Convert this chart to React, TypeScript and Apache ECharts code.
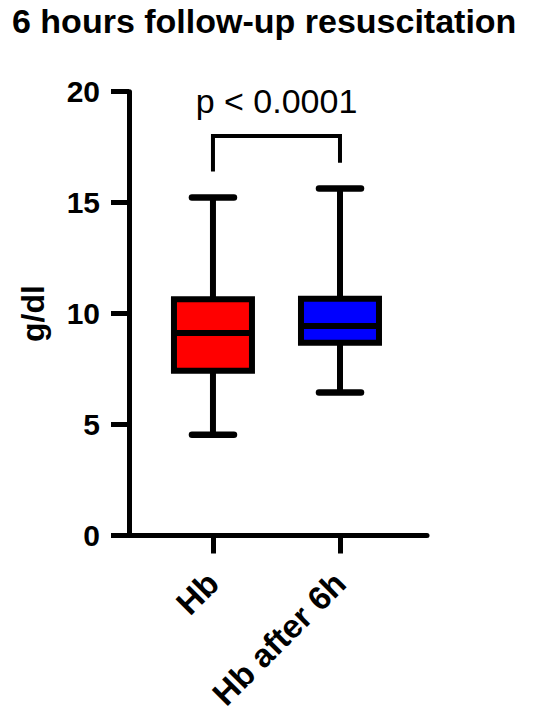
import React, { useEffect, useRef } from "react";
import * as echarts from "echarts";

// ---- data ----
const categories = ["Hb", "Hb after 6h"];
const whiskerMin = [4.54, 6.44];
const q1 = [7.42, 8.69];
const median = [9.13, 9.44];
const q3 = [10.65, 10.67];
const whiskerMax = [15.23, 15.64];
const boxColors = ["#FF0000", "#0000FF"];

const yMin = 0;
const yMax = 20;
const yInterval = 5;

// significance bracket: [fromIndex, toIndex, barY, leftLegEnd, rightLegEnd, labelY]
const bracket = [0, 1, 18.0, 16.4, 16.8, 19.6];
const bracketLabel = "p < 0.0001";

const titleText = "6 hours follow-up resuscitation";
const yAxisName = "g/dl";

const FONT = "'Liberation Sans', Arial, sans-serif";

export default function App() {
  const ref = useRef<HTMLDivElement>(null);

  useEffect(() => {
    if (!ref.current) return;
    const chart = echarts.init(ref.current, undefined, { renderer: "svg" });

    const boxData = categories.map((_, i) => [
      i,
      whiskerMin[i],
      q1[i],
      median[i],
      q3[i],
      whiskerMax[i],
    ]);

    const option: any = {
      animation: false,
      backgroundColor: "#ffffff",
      title: {
        text: titleText,
        left: 12,
        top: 4,
        padding: 0,
        textStyle: {
          fontFamily: FONT,
          fontSize: 34,
          fontWeight: "bold",
          color: "#000",
        },
      },
      grid: {
        left: 129,
        right: 123,
        top: 91.7,
        bottom: 180.5,
        containLabel: false,
      },
      xAxis: {
        type: "value",
        min: -0.661,
        max: 1.685,
        splitLine: { show: false },
        axisLine: { show: true, onZero: false, lineStyle: { color: "#000", width: 5 } },
        axisTick: {
          show: true,
          customValues: [0, 1],
          length: 18,
          lineStyle: { color: "#000", width: 5 },
        },
        axisLabel: {
          show: true,
          customValues: [0, 1],
          rotate: 45,
          margin: 42,
          formatter: (v: number) => categories[Math.round(v)] ?? "",
          fontFamily: FONT,
          fontSize: 33,
          fontWeight: "bold",
          color: "#000",
        },
      },
      yAxis: {
        type: "value",
        min: yMin,
        max: yMax,
        interval: yInterval,
        name: yAxisName,
        nameLocation: "middle",
        nameRotate: 90,
        nameGap: 80,
        nameTextStyle: {
          fontFamily: FONT,
          fontSize: 32,
          fontWeight: "bold",
          color: "#000",
        },
        splitLine: { show: false },
        axisLine: { show: true, onZero: false, lineStyle: { color: "#000", width: 5 } },
        axisTick: {
          show: true,
          length: 18,
          lineStyle: { color: "#000", width: 5 },
        },
        axisLabel: {
          margin: 29,
          fontFamily: FONT,
          fontSize: 30,
          fontWeight: "bold",
          color: "#000",
        },
      },
      series: [
        {
          type: "custom",
          data: boxData,
          encode: { x: 0, y: [1, 2, 3, 4, 5] },
          clip: false,
          renderItem: (params: any, api: any) => {
            const x = api.value(0);
            const pMin = api.coord([x, api.value(1)]);
            const pQ1 = api.coord([x, api.value(2)]);
            const pMed = api.coord([x, api.value(3)]);
            const pQ3 = api.coord([x, api.value(4)]);
            const pMax = api.coord([x, api.value(5)]);
            const cx = pMin[0];
            const halfBox = 39;
            const halfCap = 21;
            const lw = 6;
            const stroke = { stroke: "#000", lineWidth: lw };
            return {
              type: "group",
              children: [
                { type: "line", shape: { x1: cx, y1: pMax[1], x2: cx, y2: pQ3[1] }, style: stroke },
                { type: "line", shape: { x1: cx, y1: pQ1[1], x2: cx, y2: pMin[1] }, style: stroke },
                { type: "line", shape: { x1: cx - halfCap, y1: pMax[1], x2: cx + halfCap, y2: pMax[1] }, style: { ...stroke, lineWidth: 6.5, lineCap: "round" } },
                { type: "line", shape: { x1: cx - halfCap, y1: pMin[1], x2: cx + halfCap, y2: pMin[1] }, style: { ...stroke, lineWidth: 6.5, lineCap: "round" } },
                {
                  type: "rect",
                  shape: { x: cx - halfBox, y: pQ3[1], width: halfBox * 2, height: pQ1[1] - pQ3[1] },
                  style: { fill: boxColors[params.dataIndex], stroke: "#000", lineWidth: lw },
                },
                { type: "line", shape: { x1: cx - halfBox, y1: pMed[1], x2: cx + halfBox, y2: pMed[1] }, style: stroke },
              ],
            };
          },
        },
        {
          type: "custom",
          data: [bracket],
          encode: { x: [0, 1], y: [2, 3, 4, 5] },
          clip: false,
          renderItem: (params: any, api: any) => {
            const pLeftTop = api.coord([api.value(0), api.value(2)]);
            const pRightTop = api.coord([api.value(1), api.value(2)]);
            const pLeftEnd = api.coord([api.value(0), api.value(3)]);
            const pRightEnd = api.coord([api.value(1), api.value(4)]);
            const pLabel = api.coord([(api.value(0) + api.value(1)) / 2, api.value(5)]);
            return {
              type: "group",
              children: [
                {
                  type: "polyline",
                  shape: { points: [pLeftEnd, pLeftTop, pRightTop, pRightEnd] },
                  style: { stroke: "#000", lineWidth: 4, fill: "none", lineJoin: "miter" },
                },
                {
                  type: "text",
                  x: pLabel[0],
                  y: pLabel[1],
                  style: {
                    text: bracketLabel,
                    fontFamily: FONT,
                    fontSize: 34,
                    fill: "#000",
                    textAlign: "center",
                    textVerticalAlign: "middle",
                  },
                },
              ],
            };
          },
        },
      ],
    };

    chart.setOption(option);
    return () => chart.dispose();
  }, []);

  return (
    <div
      ref={ref}
      style={{ position: "fixed", left: 0, top: 0, width: 550, height: 716, background: "#fff" }}
    />
  );
}
